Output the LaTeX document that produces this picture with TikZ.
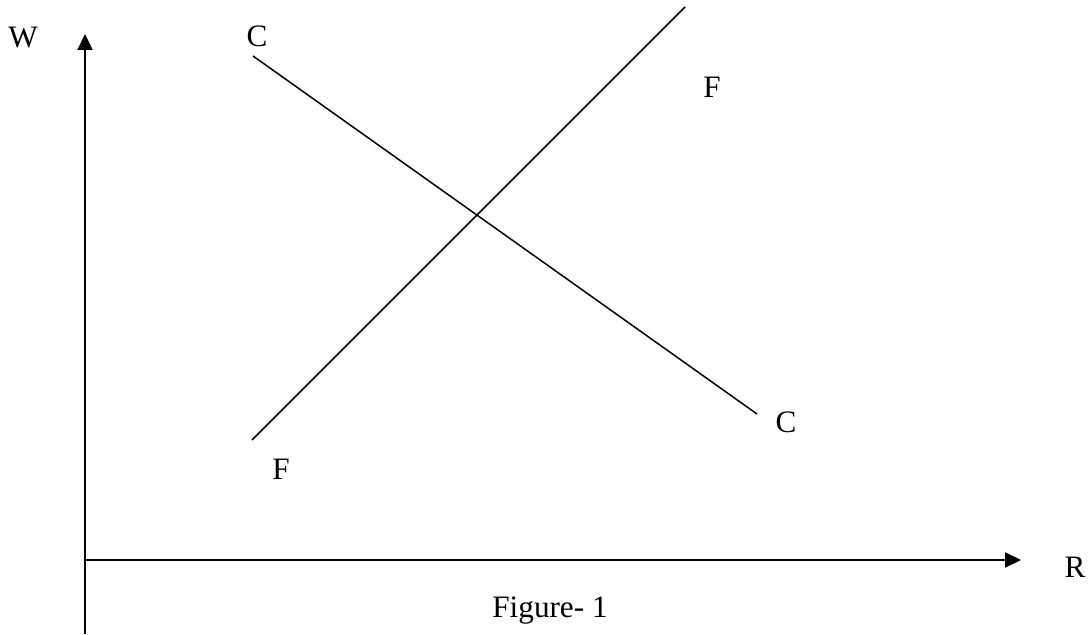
\documentclass[tikz,border=0pt]{standalone}
\usepackage{fontspec}
\setmainfont{Liberation Serif}
\usetikzlibrary{arrows.meta}
\tikzset{
  axis/.style={line width=1pt,-{Triangle[length=8pt,width=7.5pt]}},
  curve/.style={line width=0.75pt},
  lbl/.style={anchor=base,inner sep=0pt,font=\fontsize{15.6}{18}\selectfont}
}
\begin{document}
\begin{tikzpicture}[x=0.5pt,y=-0.5pt]
\useasboundingbox (0,0) rectangle (1090,635);
% axes
\coordinate (o) at (85,560);
\coordinate (ybot) at (85,634);
\coordinate (ytop) at (85,34);
\coordinate (xend) at (1021,560);
\draw[axis] (ybot)--(ytop);
\draw[axis] (o)--(xend);
\node[lbl] (w) at (23,48) {W};
\node[lbl] (r) at (1075,577) {R};
% C-C line
\coordinate (c1) at (253,56);
\coordinate (c2) at (757,414);
\draw[curve] (c1)--(c2);
\node[lbl] (ctop) at (257,47) {C};
\node[lbl] (cbot) at (786,432) {C};
% F-F line
\coordinate (f1) at (252,440);
\coordinate (f2) at (685,7);
\draw[curve] (f1)--(f2);
\node[lbl] (fbot) at (281,479) {F};
\node[lbl] (ftop) at (712,98) {F};
\node[lbl] (cap) at (550,617) {Figure- 1};
\end{tikzpicture}
\end{document}
